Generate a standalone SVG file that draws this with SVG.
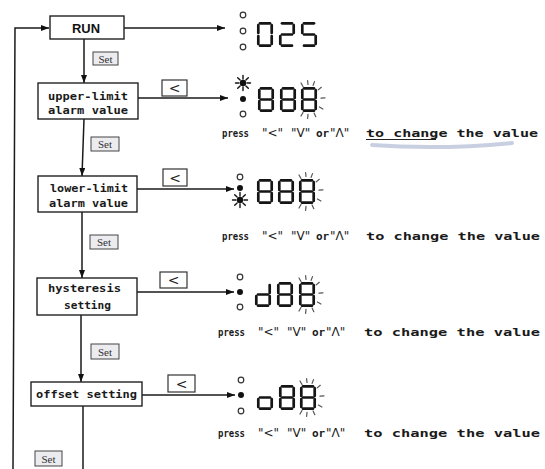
<svg xmlns="http://www.w3.org/2000/svg" width="545" height="469" viewBox="0 0 545 469">
<style>
.box{fill:#fff;stroke:#222;stroke-width:1.4}
.lbl{font-family:"DejaVu Sans Mono","Liberation Mono",monospace;font-weight:bold;font-size:11px;fill:#1a1a1a}
.run{font-family:"Liberation Sans",Arial,sans-serif;font-weight:bold;font-size:13px;fill:#111}
.setbox{fill:#ececf0;stroke:#444;stroke-width:1}
.set{font-family:"Liberation Serif","Times New Roman",serif;font-size:11px;fill:#333}
.ltbox{fill:#fff;stroke:#333;stroke-width:1.2}
.lt{font-family:"DejaVu Sans",sans-serif;font-size:14px;fill:#222}
.line{fill:none;stroke:#1a1a1a;stroke-width:1.5}
.seg{fill:none;stroke:#151515;stroke-width:2.7;stroke-linecap:round}
.ray{fill:none;stroke:#555;stroke-width:1.2;stroke-linecap:round}
.oc{fill:#fff;stroke:#333;stroke-width:1.2}
.fd{fill:#111}
.sunr{stroke:#111;stroke-width:1.4;stroke-linecap:round}
.press{font-family:"DejaVu Sans Mono","Liberation Mono",monospace;font-weight:bold;font-size:11px;fill:#1a1a1a}
.q{font-family:"DejaVu Sans",sans-serif;font-weight:normal;font-size:12px;fill:#222}
</style>
<defs>
<marker id="ah" markerUnits="userSpaceOnUse" markerWidth="9" markerHeight="7" refX="8" refY="3" orient="auto">
<path d="M0,0 L8,3 L0,6 z" fill="#111"/>
</marker>
<g id="sa"><path class="seg" d="M3,1.3 H13"/></g>
<g id="sb"><path class="seg" d="M14.7,3 V11"/></g>
<g id="sc"><path class="seg" d="M14.7,14 V22"/></g>
<g id="sd"><path class="seg" d="M3,23.7 H13"/></g>
<g id="se"><path class="seg" d="M1.3,14 V22"/></g>
<g id="sf"><path class="seg" d="M1.3,3 V11"/></g>
<g id="sg"><path class="seg" d="M3,12.5 H13"/></g>
<g id="d8"><use href="#sa"/><use href="#sb"/><use href="#sc"/><use href="#sd"/><use href="#se"/><use href="#sf"/><use href="#sg"/></g>
<g id="d0"><use href="#sa"/><use href="#sb"/><use href="#sc"/><use href="#sd"/><use href="#se"/><use href="#sf"/></g>
<g id="d2"><use href="#sa"/><use href="#sb"/><use href="#sg"/><use href="#se"/><use href="#sd"/></g>
<g id="d5"><use href="#sa"/><use href="#sf"/><use href="#sg"/><use href="#sc"/><use href="#sd"/></g>
<g id="dd"><use href="#sb"/><use href="#sc"/><use href="#sd"/><use href="#se"/><use href="#sg"/></g>
<g id="do"><use href="#sc"/><use href="#sd"/><use href="#se"/><use href="#sg"/></g>
<g id="rays">
<path class="ray" d="M2,-0.5 L0,-4 M7,-2.5 L6.6,-6.4 M12.1,-1.6 L13.5,-5.4 M17.2,2.9 L20.3,0.3 M20,11.2 L24,10.8 M18.4,20 L21.9,22 M13.1,26.1 L14.8,29.7 M7,27.4 L6.6,31.4 M2,25.5 L0,29"/>
</g>
<g id="sun">
<circle r="3.2" class="fd"/>
<path class="sunr" d="M0,-4 V-7.5 M0,4 V7.5 M-4,0 H-7.5 M4,0 H7.5 M-2.9,-2.9 L-5.3,-5.3 M2.9,-2.9 L5.3,-5.3 M-2.9,2.9 L-5.3,5.3 M2.9,2.9 L5.3,5.3"/>
</g>
<g id="pr">
<text class="press" x="0" y="0" textLength="27" lengthAdjust="spacingAndGlyphs">press</text>
<text class="q" x="40" y="0">"&lt;"</text>
<text class="q" x="69" y="0">"V"</text>
<text class="press" x="94" y="0">or</text>
<text class="q" x="108" y="0">"Λ"</text>
</g>
</defs>
<rect width="545" height="469" fill="#fff"/>

<g id="connectors">
<path class="line" d="M13,469 L15,28 L49,28" marker-end="url(#ah)"/>
<path class="line" d="M124,28 H225" marker-end="url(#ah)"/>
<path class="line" d="M84,39 V83" marker-end="url(#ah)"/>
<path class="line" d="M138,98 H228" marker-end="url(#ah)"/>
<path class="line" d="M84,119 L82,176" marker-end="url(#ah)"/>
<path class="line" d="M137,189 H234" marker-end="url(#ah)"/>
<path class="line" d="M82,212 V278" marker-end="url(#ah)"/>
<path class="line" d="M137,292 H234" marker-end="url(#ah)"/>
<path class="line" d="M81,315 V382" marker-end="url(#ah)"/>
<path class="line" d="M142,395 H235" marker-end="url(#ah)"/>
<path class="line" d="M83,406 V469"/>
</g>

<g id="run">
<rect class="box" x="50" y="16" width="74" height="23"/>
<text class="run" x="86" y="33" text-anchor="middle" textLength="28" lengthAdjust="spacingAndGlyphs">RUN</text>
</g>

<g id="set1"><rect class="setbox" x="93" y="52" width="25" height="13"/><text class="set" x="105.5" y="62.5" text-anchor="middle">Set</text></g>
<g id="set2"><rect class="setbox" x="91" y="137" width="28" height="14" fill="#dcdde6"/><text class="set" x="105" y="148" text-anchor="middle">Set</text></g>
<g id="set3"><rect class="setbox" x="90" y="235" width="28" height="14"/><text class="set" x="104" y="246" text-anchor="middle">Set</text></g>
<g id="set4"><rect class="setbox" x="91" y="344" width="28" height="15"/><text class="set" x="105" y="355.5" text-anchor="middle">Set</text></g>
<g id="set5"><rect class="setbox" x="35" y="451" width="27" height="15"/><text class="set" x="48.5" y="462.5" text-anchor="middle">Set</text></g>

<g id="upper">
<rect class="box" x="38" y="83" width="100" height="36"/>
<text class="lbl" x="48" y="100" textLength="80" lengthAdjust="spacingAndGlyphs">upper-limit</text>
<text class="lbl" x="48" y="114" textLength="80" lengthAdjust="spacingAndGlyphs">alarm value</text>
</g>
<g id="lower">
<rect class="box" x="38" y="176" width="99" height="36"/>
<text class="lbl" x="50" y="192" textLength="78" lengthAdjust="spacingAndGlyphs">lower-limit</text>
<text class="lbl" x="49" y="207" textLength="79" lengthAdjust="spacingAndGlyphs">alarm value</text>
</g>
<g id="hyst">
<rect class="box" x="37" y="278" width="100" height="37"/>
<text class="lbl" x="48" y="292" textLength="73" lengthAdjust="spacingAndGlyphs">hysteresis</text>
<text class="lbl" x="64" y="309" textLength="47" lengthAdjust="spacingAndGlyphs">setting</text>
</g>
<g id="offset">
<rect class="box" x="31" y="382" width="111" height="24"/>
<text class="lbl" x="36" y="398" textLength="101" lengthAdjust="spacingAndGlyphs">offset setting</text>
</g>

<g id="lt1"><rect class="ltbox" x="162" y="80" width="25" height="16"/><text class="lt" x="174.5" y="93" text-anchor="middle">&lt;</text></g>
<g id="lt2"><rect class="ltbox" x="163" y="169" width="24" height="17"/><text class="lt" x="175" y="182.5" text-anchor="middle">&lt;</text></g>
<g id="lt3"><rect class="ltbox" x="160" y="272" width="27" height="16"/><text class="lt" x="173.5" y="285" text-anchor="middle">&lt;</text></g>
<g id="lt4"><rect class="ltbox" x="168" y="375" width="27" height="17"/><text class="lt" x="181.5" y="388.5" text-anchor="middle">&lt;</text></g>

<g id="disp-run">
<circle class="oc" cx="243" cy="15" r="2.8"/>
<circle class="oc" cx="243" cy="31" r="2.8"/>
<circle class="oc" cx="243" cy="47" r="2.8"/>
<use href="#d0" x="257" y="22"/>
<use href="#d2" x="279" y="22"/>
<use href="#d5" x="301" y="22"/>
</g>

<g id="disp-upper">
<use href="#sun" x="243" y="83"/>
<circle class="fd" cx="243" cy="99" r="3"/>
<circle class="oc" cx="243" cy="114" r="2.8"/>
<use href="#d8" x="258" y="87"/>
<use href="#d8" x="280" y="87"/>
<use href="#d8" x="301" y="87"/>
<use href="#rays" x="301" y="87"/>
<use href="#pr" x="222" y="137"/>
<text class="press" x="366" y="137" textLength="172" lengthAdjust="spacingAndGlyphs">to change the value</text>
<path d="M366,139.5 H436" stroke="#222" stroke-width="1.1"/>
<path d="M372,145 Q440,150 512,143" fill="none" stroke="#9aa8c8" stroke-width="4" stroke-linecap="round" opacity="0.55"/>
</g>

<g id="disp-lower">
<circle class="oc" cx="240" cy="177" r="2.8"/>
<circle class="fd" cx="240" cy="188" r="3"/>
<use href="#sun" x="240" y="200"/>
<use href="#d8" x="257" y="179"/>
<use href="#d8" x="278" y="179"/>
<use href="#d8" x="299" y="179"/>
<use href="#rays" x="299" y="179"/>
<use href="#pr" x="222" y="240"/>
<text class="press" x="366" y="240" textLength="174" lengthAdjust="spacingAndGlyphs">to change the value</text>
</g>

<g id="disp-hyst">
<circle class="oc" cx="240" cy="277" r="2.8"/>
<circle class="fd" cx="240" cy="292" r="3"/>
<circle class="oc" cx="240" cy="307" r="2.8"/>
<use href="#dd" x="255" y="282"/>
<use href="#d8" x="277" y="282"/>
<use href="#d8" x="299" y="282"/>
<use href="#rays" x="299" y="282"/>
<use href="#pr" x="218" y="336"/>
<text class="press" x="364" y="336" textLength="176" lengthAdjust="spacingAndGlyphs">to change the value</text>
</g>

<g id="disp-offset">
<circle class="oc" cx="241" cy="380" r="2.8"/>
<circle class="fd" cx="241" cy="395" r="3"/>
<circle class="oc" cx="241" cy="411" r="2.8"/>
<use href="#do" x="257" y="385"/>
<use href="#d8" x="279" y="385"/>
<use href="#d8" x="300" y="385"/>
<use href="#rays" x="300" y="385"/>
<use href="#pr" x="218" y="437"/>
<text class="press" x="364" y="437" textLength="176" lengthAdjust="spacingAndGlyphs">to change the value</text>
</g>
</svg>
